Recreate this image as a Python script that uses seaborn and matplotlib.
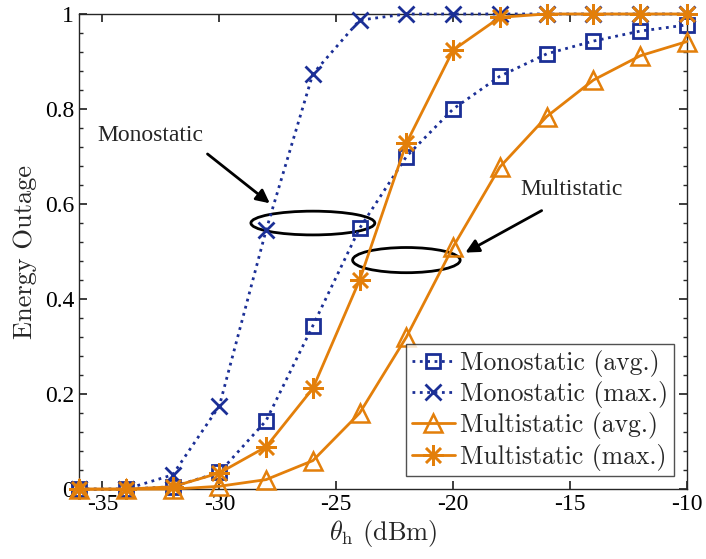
import numpy as np
import pandas as pd
import seaborn as sns
import matplotlib.pyplot as plt
from matplotlib.patches import Ellipse
from matplotlib.ticker import MultipleLocator

# threshold values (dBm)
theta_h = [-36, -34, -32, -30, -28, -26, -24, -22, -20, -18, -16, -14, -12, -10]

mono_avg = [0.0, 0.0, 0.005, 0.035, 0.144, 0.344, 0.549, 0.70, 0.80, 0.869, 0.916, 0.943, 0.964, 0.977]
mono_max = [0.0, 0.0, 0.03, 0.175, 0.545, 0.874, 0.987, 1.0, 1.0, 1.0, 1.0, 1.0, 1.0, 1.0]
multi_avg = [0.0, 0.0, 0.0, 0.006, 0.02, 0.06, 0.16, 0.32, 0.51, 0.678, 0.784, 0.861, 0.912, 0.942]
multi_max = [0.0, 0.0, 0.005, 0.034, 0.089, 0.212, 0.44, 0.728, 0.924, 0.993, 1.0, 1.0, 1.0, 1.0]

series_names = ["Monostatic (avg.)", "Monostatic (max.)", "Multistatic (avg.)", "Multistatic (max.)"]

blue = "#1B2F96"
orange = "#E37F0A"

sns.set_theme(style="ticks")
plt.rcParams["axes.unicode_minus"] = False
plt.rcParams["mathtext.fontset"] = "cm"

df = pd.DataFrame({
    "theta": theta_h * 4,
    "outage": mono_avg + mono_max + multi_avg + multi_max,
    "series": np.repeat(series_names, len(theta_h)),
})

fig = plt.figure(figsize=(7.06, 5.59), dpi=100)
ax = fig.add_axes([0.112, 0.125, 0.861, 0.85])

styles = {
    "Monostatic (avg.)": dict(color=blue, linestyle=":", marker="s", markersize=10,
                              markerfacecolor="none", markeredgewidth=2),
    "Monostatic (max.)": dict(color=blue, linestyle=":", marker="x", markersize=11,
                              markeredgewidth=2),
    "Multistatic (avg.)": dict(color=orange, linestyle="-", marker="^", markersize=13,
                               markerfacecolor="none", markeredgewidth=1.8),
    "Multistatic (max.)": dict(color=orange, linestyle="-", marker=(8, 2, 0), markersize=15,
                               markeredgewidth=1.8),
}

for name in series_names:
    sub = df[df.series == name]
    st = styles[name]
    sns.lineplot(data=sub, x="theta", y="outage", ax=ax, label=name,
                 linewidth=2, markeredgecolor=st["color"], clip_on=False, zorder=3, **st)

ax.set_xlim(-36, -10)
ax.set_ylim(0, 1)
ax.set_xticks([-35, -30, -25, -20, -15, -10])
ax.set_yticks([0, 0.2, 0.4, 0.6, 0.8, 1])
ax.set_yticklabels(["0", "0.2", "0.4", "0.6", "0.8", "1"])
ax.yaxis.set_minor_locator(MultipleLocator(0.04))
ax.tick_params(which="both", direction="in", top=True, right=True, colors="#262626",
               labelcolor="black")
ax.tick_params(which="major", length=6)
ax.tick_params(which="minor", length=3)
for lab in ax.get_xticklabels() + ax.get_yticklabels():
    lab.set_family("Liberation Serif")
    lab.set_fontsize(17)
for sp in ax.spines.values():
    sp.set_color("#262626")
    sp.set_linewidth(1.0)

ax.set_xlabel(r"$\theta_{\rm h}$ (dBm)", family="cmr10", fontsize=19, labelpad=2)
ax.set_ylabel("Energy Outage", family="cmr10", fontsize=19, labelpad=6)

leg = ax.legend(loc="lower right", bbox_to_anchor=(0.979, 0.027), borderaxespad=0,
                prop={"family": "cmr10", "size": 18.5}, frameon=True, fancybox=False,
                handlelength=1.7, handletextpad=0.2, labelspacing=0.17, borderpad=0.22)
leg.get_frame().set_edgecolor("#262626")
leg.get_frame().set_linewidth(1.0)
leg.set_zorder(5)

# annotations
ax.add_patch(Ellipse((-26, 0.56), 5.3, 0.05, fill=False, edgecolor="black", linewidth=2))
ax.add_patch(Ellipse((-22, 0.482), 4.6, 0.053, fill=False, edgecolor="black", linewidth=2))
ax.annotate("", xy=(-27.75, 0.598), xytext=(-30.6, 0.709),
            arrowprops=dict(arrowstyle="-|>", color="black", lw=2, mutation_scale=20))
ax.annotate("", xy=(-19.58, 0.495), xytext=(-16.11, 0.589),
            arrowprops=dict(arrowstyle="-|>", color="black", lw=2, mutation_scale=20))
ax.text(-35.23, 0.745, "Monostatic", family="Liberation Serif", fontsize=17, va="center")
ax.text(-17.14, 0.63, "Multistatic", family="Liberation Serif", fontsize=17, va="center")

fig.savefig("out.png", dpi=100)
